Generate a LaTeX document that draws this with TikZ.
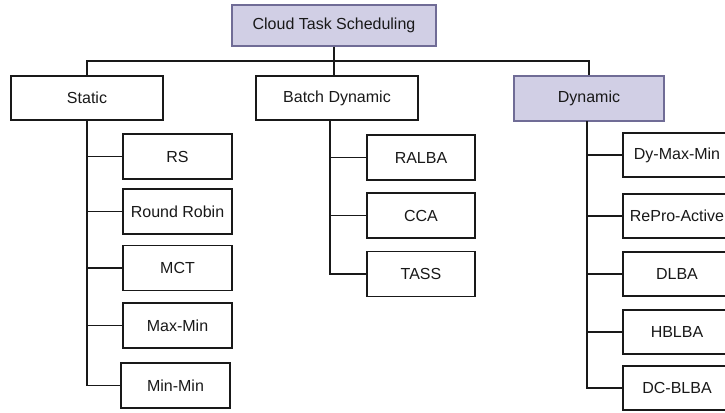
\documentclass[tikz,border=0pt]{standalone}
\usepackage{fontspec}
\setmainfont{Liberation Sans}
\definecolor{lav}{RGB}{209,207,229}
\definecolor{lavline}{RGB}{112,108,150}
\definecolor{ink}{RGB}{25,25,25}
\begin{document}
\begin{tikzpicture}[x=1pt,y=-1pt,
  box/.style={draw=ink,line width=1.25pt,fill=white,minimum width=108pt,minimum height=45pt,inner sep=0pt,font=\fontsize{16}{18}\selectfont,text=ink},
  hl/.style={fill=lav,draw=lavline},
  link/.style={draw=ink,line width=1.25pt}]
\useasboundingbox (0,0) rectangle (725,412);
\node[box,hl,minimum width=204pt,minimum height=41pt] (root) at (334,25.5) {Cloud Task Scheduling};
\node[box,minimum width=152pt,minimum height=44pt] (static) at (87,98) {Static};
\node[box,minimum width=162pt,minimum height=44pt] (batch) at (337,98) {Batch Dynamic};
\node[box,hl,minimum width=150pt,minimum height=45pt] (dyn) at (589,98.5) {Dynamic};
\coordinate (bar) at (0,61);
\draw[link] (static.north) |- (bar -| dyn.north) -- (dyn.north);
\draw[link] (root.south) -- (root.south |- bar);
\draw[link] (batch.north -| root.south) -- (root.south |- bar);
% static children
\node[box,minimum width=109pt] (rs) at (177.5,156.5) {RS};
\node[box,minimum width=109pt] (rr) at (177.5,211.5) {Round Robin};
\node[box,minimum width=109pt] (mct) at (177.5,268) {MCT};
\node[box,minimum width=109pt] (maxmin) at (177.5,325.5) {Max-Min};
\node[box,minimum width=109pt] (minmin) at (175.5,385.5) {Min-Min};
\foreach \c in {rs,rr,mct,maxmin,minmin}{\draw[link] (static.south) |- (\c.west);}
% batch children
\coordinate (bt) at (330,120);
\node[box] (ralba) at (421,157.5) {RALBA};
\node[box] (cca) at (421,215.5) {CCA};
\node[box] (tass) at (421,274) {TASS};
\foreach \c in {ralba,cca,tass}{\draw[link] (bt) |- (\c.west);}
% dynamic children
\coordinate (dt) at (587,121);
\node[box,minimum height=44pt] (dymm) at (677,155) {Dy-Max-Min};
\node[box,minimum height=44pt] (repro) at (677,216) {RePro-Active};
\node[box,minimum height=44pt] (dlba) at (677,274) {DLBA};
\node[box,minimum height=44pt] (hblba) at (677,332) {HBLBA};
\node[box,minimum height=44pt] (dcblba) at (677,388) {DC-BLBA};
\foreach \c in {dymm,repro,dlba,hblba,dcblba}{\draw[link] (dt) |- (\c.west);}
\end{tikzpicture}
\end{document}
